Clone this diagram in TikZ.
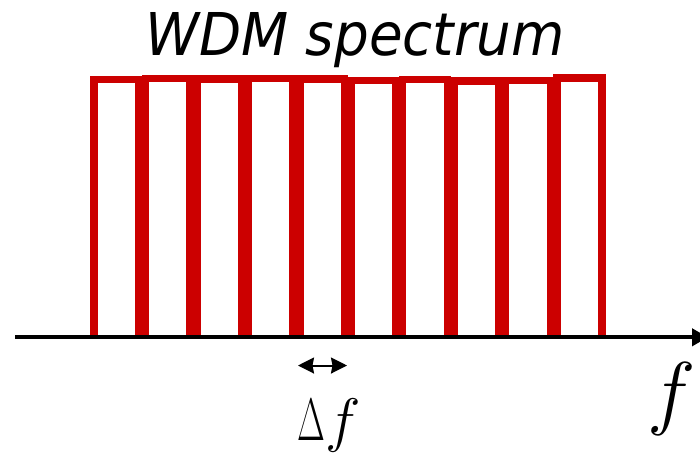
\documentclass[tikz,border=0pt]{standalone}
\usepackage{fix-cm}
\usepackage{fontspec}
\newfontfamily\titlefont{DejaVu Sans}
\usetikzlibrary{arrows.meta}
\definecolor{chanred}{RGB}{204,0,0}
\tikzset{
  chan/.style={draw=chanred, line width=7.5pt, line join=miter},
  axisline/.style={draw=black, line width=4.2pt, -{Triangle[length=16pt,width=17pt]}},
  spacing/.style={draw=black, line width=2pt, {Stealth[length=16pt,width=16pt,inset=1.5pt]}-{Stealth[length=16pt,width=16pt,inset=1.5pt]}},
  lbl/.style={inner sep=0pt, outer sep=0pt}
}
\begin{document}
\begin{tikzpicture}[x=1pt,y=-1pt]
\useasboundingbox (0,0) rectangle (700,453);
% title
\node[lbl, anchor=base] (title) at (355,55)
  {\scalebox{0.927}[1]{\titlefont\itshape\fontsize{59}{70}\selectfont WDM spectrum}};
% channels
\foreach \k/\t in {0/79.4,1/78.4,2/79,3/78.4,4/79,5/80.7,6/79.7,7/81,8/80.4,9/78} {
  \pgfmathsetmacro\L{93.9+51.47*\k}
  \pgfmathsetmacro\R{\L+44.85}
  \draw[chan] (\L,337) -- (\L,\t) -- (\R,\t) -- (\R,337);
}
% axis
\coordinate (axL) at (15,337.3);
\coordinate (axR) at (708,337.3);
\draw[axisline] (axL) -- (axR);
% channel spacing
\coordinate (dL) at (298,365.5);
\coordinate (dR) at (347,365.5);
\draw[spacing] (dL) -- (dR);
\node[lbl, anchor=base west] (df) at (297,440.5)
  {\fontsize{60}{70}\selectfont\scalebox{0.6}[1]{$\Delta$}\kern1pt$f$};
\node[lbl, anchor=base] (flabel) at (672,419)
  {\fontsize{82}{90}\selectfont$f$};
\end{tikzpicture}
\end{document}
